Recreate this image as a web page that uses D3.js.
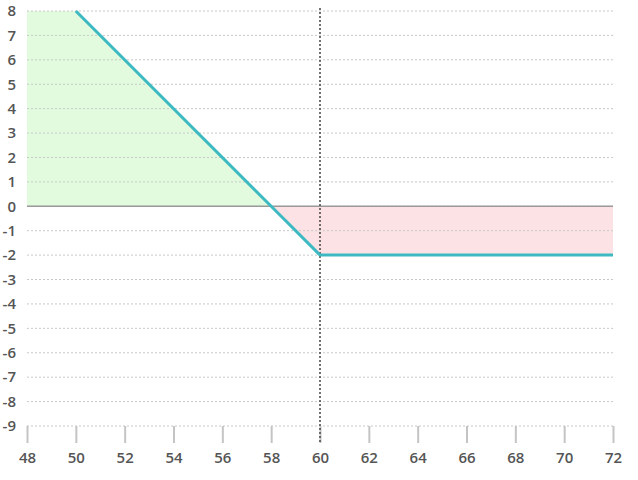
<!DOCTYPE html>
<html>
<head>
  <meta charset="utf-8">
  <script src="https://d3js.org/d3.v7.min.js"></script>
  <style>
    body { margin: 0; background: #fff; }
    text { font-family: "Open Sans", Lato, sans-serif; font-weight: 600; }
  </style>
</head>
<body>
  <div id="chart"></div>
  <script>
    // payoff of the position at expiry
    var prices = [48, 50, 58, 60, 72];
    var payoff = [10, 8, 0, -2, -2];
    var strike = 60;
    var xTicks = [48, 50, 52, 54, 56, 58, 60, 62, 64, 66, 68, 70, 72];
    var yTicks = [-9, -8, -7, -6, -5, -4, -3, -2, -1, 0, 1, 2, 3, 4, 5, 6, 7, 8];

    var width = 638, height = 480;
    var margin = { top: 11, right: 25, bottom: 54, left: 27 };

    var svg = d3.select("#chart").append("svg")
      .attr("width", width)
      .attr("height", height);

    var x = d3.scaleLinear().domain([48, 72]).range([margin.left, width - margin.right]);
    var y = d3.scaleLinear().domain([-9, 8]).range([height - margin.bottom, margin.top]);

    var pts = prices.map(function(p, i) { return { x: p, y: payoff[i] }; });

    svg.append("clipPath").attr("id", "plot")
      .append("rect")
      .attr("x", x(48)).attr("y", y(8) - 2)
      .attr("width", x(72) - x(48) + 2).attr("height", y(-9) - y(8) + 2);

    var areas = svg.append("g").attr("clip-path", "url(#plot)");

    // profit / loss areas
    var gain = d3.area()
      .x(function(d) { return x(d.x); })
      .y0(y(0))
      .y1(function(d) { return y(Math.min(Math.max(d.y, 0), 8)); });
    var loss = d3.area()
      .x(function(d) { return x(d.x); })
      .y0(y(0))
      .y1(function(d) { return y(Math.min(d.y, 0)); });

    areas.append("path").datum(pts.filter(function(d) { return d.x <= 58; }))
      .attr("d", gain).attr("fill", "#e2fbdf");
    areas.append("path").datum(pts.filter(function(d) { return d.x >= 58; }))
      .attr("d", loss).attr("fill", "#fde2e5");

    // grid
    svg.append("g").selectAll("line").data(yTicks).enter().append("line")
      .attr("x1", x(48)).attr("x2", x(72))
      .attr("y1", function(d) { return y(d); })
      .attr("y2", function(d) { return y(d); })
      .attr("stroke", "#c8c8c8")
      .attr("stroke-width", 1)
      .attr("stroke-dasharray", "2,2");

    // zero line
    svg.append("line")
      .attr("x1", x(48)).attr("x2", x(72))
      .attr("y1", y(0)).attr("y2", y(0))
      .attr("stroke", "#9a9a9a").attr("stroke-width", 1.5);

    // x axis
    var xAxis = svg.append("g")
      .attr("transform", "translate(0," + y(-9) + ")")
      .call(d3.axisBottom(x).tickValues(xTicks).tickFormat(String).tickSize(17).tickPadding(9));
    xAxis.select(".domain").remove();
    xAxis.selectAll(".tick line").attr("stroke", "#c4c4c4").attr("stroke-width", 2);
    xAxis.selectAll(".tick text")
      .attr("fill", "#555").style("font-size", "15px");

    // y axis labels
    var yAxis = svg.append("g")
      .attr("transform", "translate(16,0)")
      .call(d3.axisLeft(y).tickValues(yTicks).tickFormat(String).tickSize(0).tickPadding(0));
    yAxis.select(".domain").remove();
    yAxis.selectAll(".tick text")
      .attr("fill", "#555").style("font-size", "15px");

    // strike marker
    svg.append("line")
      .attr("x1", x(strike)).attr("x2", x(strike))
      .attr("y1", 8).attr("y2", y(-9) + 18)
      .attr("stroke", "#444").attr("stroke-width", 1.5)
      .attr("stroke-dasharray", "2,2");

    // payoff line
    var line = d3.line()
      .x(function(d) { return x(d.x); })
      .y(function(d) { return y(d.y); });
    svg.append("path").datum(pts.filter(function(d) { return d.x >= 50; }))
      .attr("d", line)
      .attr("fill", "none")
      .attr("stroke", "#3cb9c1")
      .attr("stroke-width", 3);
  </script>
</body>
</html>
